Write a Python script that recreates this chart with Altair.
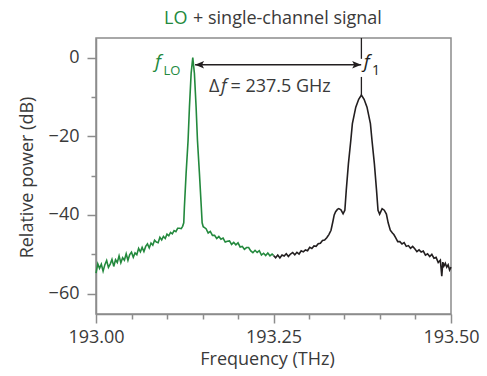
import altair as alt
import pandas as pd

# ---------------- data ----------------
lo_freq = [193.0000, 193.0025, 193.0050, 193.0075, 193.0100, 193.0125, 193.0150, 193.0175,
           193.0200, 193.0225, 193.0250, 193.0275, 193.0300, 193.0325, 193.0350, 193.0375,
           193.0400, 193.0425, 193.0450, 193.0475, 193.0500, 193.0525, 193.0550, 193.0575,
           193.0600, 193.0625, 193.0650, 193.0675, 193.0700, 193.0725, 193.0750, 193.0775,
           193.0800, 193.0825, 193.0850, 193.0875, 193.0900, 193.0925, 193.0950, 193.0975,
           193.1000, 193.1025, 193.1050, 193.1075, 193.1100, 193.1125, 193.1150, 193.1175,
           193.1200, 193.1220, 193.1236, 193.1245, 193.1269, 193.1297, 193.1316, 193.1340,
           193.1363, 193.1386, 193.1410, 193.1429, 193.1457, 193.1483, 193.1495, 193.1510,
           193.1550, 193.1580, 193.1610, 193.1640, 193.1670, 193.1700, 193.1730, 193.1760,
           193.1790, 193.1820, 193.1850, 193.1880, 193.1910, 193.1940, 193.1970, 193.2000,
           193.2030, 193.2060, 193.2090, 193.2120, 193.2150, 193.2180, 193.2210, 193.2240,
           193.2270, 193.2300, 193.2330, 193.2360, 193.2390, 193.2420, 193.2450, 193.2480,
           193.2500]
lo_db = [-54.8, -52.45, -53.6, -52.55, -54.3, -52.65, -51.6, -53.35,
         -52.5, -51.3, -53.1, -51.4, -52.1, -50.4, -52.15, -50.9,
         -51.5, -49.9, -51.55, -50.1, -49.5, -50.75, -49.65, -50.1,
         -48.5, -49.4, -48.25, -49.3, -48.0, -47.35, -48.4, -47.15,
         -47.7, -46.45, -46.9, -47.05, -45.7, -46.35, -45.45, -46.0,
         -44.9, -45.3, -44.45, -44.8, -44.0, -44.25, -43.4, -43.4,
         -43.5, -42.9, -42.0, -38.0, -29.5, -21.0, -12.6, -4.0,
         0.0, -4.0, -12.6, -21.0, -29.5, -38.0, -42.0, -43.0,
         -43.5, -44.6, -44.2, -45.2, -45.2, -46.0, -45.5, -46.2,
         -45.9, -46.9, -46.7, -46.6, -47.5, -47.0, -47.6, -47.1,
         -48.15, -48.0, -48.75, -48.3, -48.3, -49.15, -49.6, -49.0,
         -49.55, -49.1, -50.2, -49.75, -50.35, -49.7, -50.4, -49.95,
         -50.3]

sig_freq = [193.2500, 193.2530, 193.2560, 193.2590, 193.2620, 193.2650, 193.2680, 193.2710,
            193.2740, 193.2770, 193.2800, 193.2830, 193.2860, 193.2890, 193.2920, 193.2950,
            193.2980, 193.3010, 193.3040, 193.3070, 193.3100, 193.3130, 193.3160, 193.3190,
            193.3220, 193.3250, 193.3280, 193.3310, 193.3335, 193.3355, 193.3375, 193.3400,
            193.3420, 193.3450, 193.3480, 193.3505, 193.3525, 193.3555, 193.3589, 193.3611,
            193.3659, 193.3700, 193.3738, 193.3776, 193.3817, 193.3865, 193.3887, 193.3921,
            193.3951, 193.3972, 193.3995, 193.4030, 193.4060, 193.4090, 193.4115, 193.4145,
            193.4175, 193.4195, 193.4220, 193.4250, 193.4280, 193.4310, 193.4340, 193.4370,
            193.4400, 193.4430, 193.4460, 193.4490, 193.4520, 193.4550, 193.4580, 193.4610,
            193.4640, 193.4670, 193.4700, 193.4730, 193.4760, 193.4790, 193.4820, 193.4850,
            193.4870, 193.4885, 193.4900, 193.4920, 193.4940, 193.4960, 193.4980, 193.5000]
sig_db = [-50.3, -50.9, -50.2, -50.95, -50.2, -50.45, -49.85, -50.55,
          -49.95, -49.55, -50.15, -49.5, -49.95, -49.1, -49.4, -48.9,
          -49.1, -48.25, -48.55, -47.9, -48.0, -47.35, -47.2, -46.5,
          -46.4, -45.8, -45.0, -43.9, -41.8, -40.0, -39.2, -38.6,
          -38.4, -38.7, -39.7, -38.8, -33.7, -27.0, -21.0, -16.8,
          -12.6, -10.6, -9.5, -10.6, -12.6, -16.8, -21.0, -27.0,
          -33.7, -38.8, -39.8, -38.4, -38.8, -39.8, -42.0, -43.9,
          -44.6, -45.0, -45.8, -46.8, -46.8, -47.4, -47.05, -48.0,
          -47.8, -48.5, -48.0, -48.6, -49.35, -48.9, -49.45, -49.2,
          -50.25, -49.9, -50.6, -50.05, -51.0, -50.8, -52.1, -51.5,
          -55.6, -52.0, -53.0, -52.3, -53.3, -52.7, -54.0, -53.3]

x_ticks = [193.00, 193.05, 193.10, 193.15, 193.20, 193.25,
           193.30, 193.35, 193.40, 193.45, 193.50]
y_ticks = [-60, -50, -40, -30, -20, -10, 0]

# annotation anchors (data units)
f_lo = 193.1363
f_one = 193.3738
arrow_y = -1.8

GREEN = "#23893d"
BLACK = "#231f20"
GREY = "#8c8c8c"
TEXT = "#3a3a3a"
FONT = "Open Sans"

x_enc = alt.X(
    "f:Q",
    scale=alt.Scale(domain=[193.0, 193.5], nice=False, zero=False),
    axis=alt.Axis(
        values=x_ticks, format=".2f",
        labelExpr="abs(datum.value*4 - round(datum.value*4)) < 0.001 ? datum.label : ''",
        tickSize={"condition": {"test": "abs(datum.value*4 - round(datum.value*4)) < 0.001", "value": 9}, "value": 5},
        labelPadding=5, labelFlush=False, labelOverlap=False,
        title="Frequency (THz)", titleX=171, titleY=50, titleBaseline="alphabetic",
    ),
)
y_enc = alt.Y(
    "db:Q",
    scale=alt.Scale(domain=[-65.2, 5], nice=False, zero=False),
    axis=alt.Axis(
        values=y_ticks,
        labelExpr="datum.value % 20 === 0 ? datum.label : ''",
        tickSize={"condition": {"test": "datum.value % 20 === 0", "value": 9}, "value": 5},
        labelPadding=8, labelFlush=False, labelOverlap=False,
        title="Relative power (dB)", titleX=-64, titleY=139, titleBaseline="alphabetic",
    ),
)

lo_df = pd.DataFrame({"f": lo_freq, "db": lo_db})
sig_df = pd.DataFrame({"f": sig_freq, "db": sig_db})

lo_line = alt.Chart(lo_df).mark_line(color=GREEN, strokeWidth=1.6).encode(x=x_enc, y=y_enc)
sig_line = alt.Chart(sig_df).mark_line(color=BLACK, strokeWidth=1.6).encode(x=x_enc, y=y_enc)

# f1 marker line (broken around the arrow tip)
marker_df = pd.DataFrame({"f": [f_one, f_one], "db": [5.0, -4.9], "db2": [-0.3, -9.5]})
marker = alt.Chart(marker_df).mark_rule(color=BLACK, strokeWidth=1.3).encode(
    x=x_enc, y=y_enc, y2="db2:Q")

# double arrow
arrow_df = pd.DataFrame({"f": [193.1395], "f2": [193.3735], "db": [arrow_y]})
shaft = alt.Chart(arrow_df).mark_rule(color=BLACK, strokeWidth=1.3).encode(
    x=x_enc, x2="f2:Q", y=y_enc)
head_path_r = "M0,0L-1,-0.42L-0.78,0L-1,0.42Z"
head_path_l = "M0,0L1,-0.42L0.78,0L1,0.42Z"
head_r = alt.Chart(pd.DataFrame({"f": [193.3735], "db": [arrow_y]})).mark_point(
    shape=head_path_r, size=324, filled=True, color=BLACK, opacity=1, strokeWidth=0
).encode(x=x_enc, y=y_enc)
head_l = alt.Chart(pd.DataFrame({"f": [193.1395], "db": [arrow_y]})).mark_point(
    shape=head_path_l, size=324, filled=True, color=BLACK, opacity=1, strokeWidth=0
).encode(x=x_enc, y=y_enc)


def label(f, db, text, color, size, style="normal"):
    d = pd.DataFrame({"f": [f], "db": [db], "t": [text]})
    return alt.Chart(d).mark_text(
        align="left", baseline="alphabetic", font=FONT, fontSize=size,
        fontStyle=style, color=color
    ).encode(x=x_enc, y=y_enc, text="t:N")


lbl_f_lo = label(193.0831, -2.6, "f", GREEN, 19, "italic")
lbl_lo_sub = label(193.0951, -4.4, "LO", GREEN, 13)
lbl_f_one = label(193.3770, -2.6, "f", BLACK, 19, "italic")
lbl_one_sub = label(193.3887, -4.4, "1", BLACK, 14)
lbl_delta = label(193.1592, -8.66, "Δ", TEXT, 18)
lbl_delta_f = label(193.1759, -8.66, "f", TEXT, 18, "italic")
lbl_delta_val = label(193.1894, -8.66, "= 237.5 GHz", TEXT, 18)


def title_piece(px, text, color):
    d = pd.DataFrame({"t": [text]})
    return alt.Chart(d).mark_text(
        align="left", baseline="alphabetic", font=FONT, fontSize=18, color=color
    ).encode(x=alt.value(px), y=alt.value(-14), text="t:N")


title_lo = title_piece(68, "LO", GREEN)
title_rest = title_piece(97, "+ single-channel signal", TEXT)

chart = alt.layer(
    lo_line, sig_line, marker, shaft, head_l, head_r,
    lbl_f_lo, lbl_lo_sub, lbl_f_one, lbl_one_sub,
    lbl_delta, lbl_delta_f, lbl_delta_val, title_lo, title_rest,
).properties(
    width=355, height=276,
    autosize=alt.AutoSizeParams(type="none"),
    padding={"left": 96, "top": 38, "right": 36, "bottom": 62},
).configure_view(
    stroke=GREY, strokeWidth=1.5
).configure_axis(
    domainColor=GREY, domainWidth=1.5, tickColor=GREY, tickWidth=1.5,
    labelFont=FONT, labelFontSize=18, labelColor=TEXT,
    titleFont=FONT, titleFontSize=18, titleColor=TEXT, titleFontWeight="normal",
    grid=False,
)

chart.save("out.html", embed_options={"renderer": "svg", "actions": False})
